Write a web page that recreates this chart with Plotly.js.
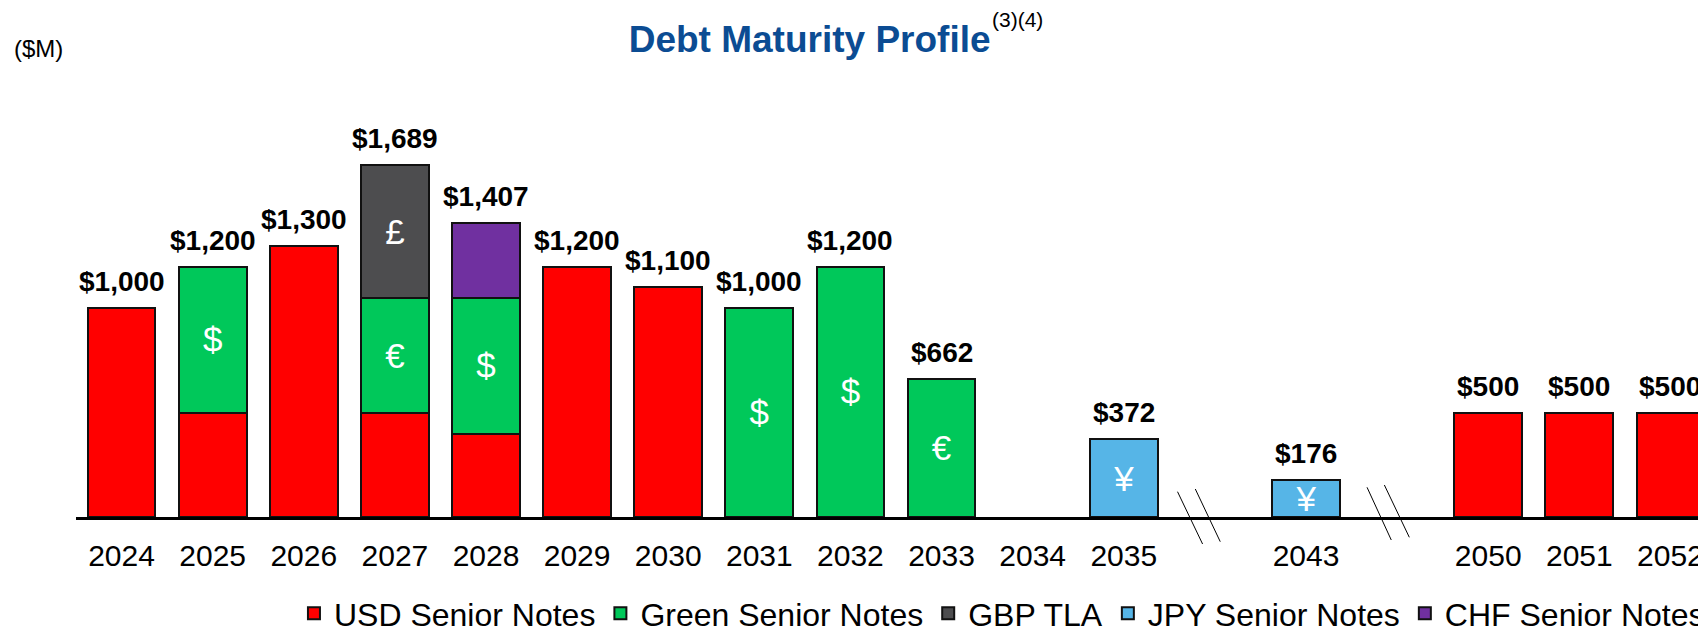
<!DOCTYPE html>
<html>
<head>
<meta charset="utf-8">
<script src="https://cdn.plot.ly/plotly-3.0.1.min.js"></script>
<style>
html, body { margin: 0; padding: 0; overflow: hidden; background: #ffffff; }
#chart { width: 1800px; height: 628px; }
</style>
</head>
<body>
<div id="chart"></div>
<script>
// ---- data (values in $M) ----
const years = ['2024','2025','2026','2027','2028','2029','2030','2031','2032','2033','2034','2035',' ','2043','  ','2050','2051','2052'];
const usdSeniorNotes   = [1000, 500, 1300, 500, 400, 1200, 1100, null, null, null, null, null, null, null, null, 500, 500, 500];
const greenSeniorNotes = [null, 700, null, 549, 650, null, null, 1000, 1200, 662, null, null, null, null, null, null, null, null];
const gbpTLA           = [null, null, null, 640, null, null, null, null, null, null, null, null, null, null, null, null, null, null];
const jpySeniorNotes   = [null, null, null, null, null, null, null, null, null, null, null, 372, null, 176, null, null, null, null];
const chfSeniorNotes   = [null, null, null, null, 357, null, null, null, null, null, null, null, null, null, null, null, null, null];
const greenSymbols = ['', '$', '', '€', '$', '', '', '$', '$', '€', '', '', '', '', '', '', '', ''];
const gbpSymbols   = ['', '', '', '£', '', '', '', '', '', '', '', '', '', '', '', '', '', ''];
const jpySymbols   = ['', '', '', '', '', '', '', '', '', '', '', '¥', '', '¥', '', '', '', ''];
const seriesNames  = ['USD Senior Notes', 'Green Senior Notes', 'GBP TLA', 'JPY Senior Notes', 'CHF Senior Notes'];
const seriesColors = ['#FF0000', '#00C85A', '#4D4D4F', '#56B5E7', '#7030A0'];

const FONT = 'Liberation Sans, Arial, sans-serif';

function barTrace(i, values, symbols) {
  const t = {
    type: 'bar',
    name: seriesNames[i],
    x: years,
    y: values,
    marker: { color: seriesColors[i], line: { color: '#111111', width: 2 } },
    hoverinfo: 'skip',
    cliponaxis: false
  };
  if (symbols) {
    t.text = symbols;
    t.textposition = 'inside';
    t.insidetextanchor = 'middle';
    t.textangle = 0;
    t.constraintext = 'none';
    t.textfont = { family: FONT, size: 35, color: '#ffffff' };
  } else {
    t.textposition = 'none';
  }
  return t;
}

const traces = [
  barTrace(0, usdSeniorNotes, null),
  barTrace(1, greenSeniorNotes, greenSymbols),
  barTrace(2, gbpTLA, gbpSymbols),
  barTrace(3, jpySeniorNotes, jpySymbols),
  barTrace(4, chfSeniorNotes, null)
];

// totals above each bar (category axis: annotation x is the category index)
const allSeries = [usdSeniorNotes, greenSeniorNotes, gbpTLA, jpySeniorNotes, chfSeniorNotes];
const annotations = [];
years.forEach((yr, i) => {
  const total = allSeries.reduce((s, arr) => s + (arr[i] || 0), 0);
  if (total > 0) {
    annotations.push({
      x: i, y: total, xref: 'x', yref: 'y',
      text: '<b>$' + total.toLocaleString('en-US') + '</b>',
      showarrow: false, xanchor: 'center', yanchor: 'bottom', yshift: 9,
      font: { family: FONT, size: 28, color: '#000000' }
    });
  }
});
annotations.push({
  text: '(3)(4)', xref: 'paper', yref: 'paper', x: 0.5572, y: 1.1140,
  xanchor: 'left', yanchor: 'middle', showarrow: false,
  font: { family: FONT, size: 21, color: '#000000' }
});
annotations.push({
  text: '($M)', xref: 'paper', yref: 'paper', x: -0.0390, y: 1.0485,
  xanchor: 'left', yanchor: 'middle', showarrow: false,
  font: { family: FONT, size: 24, color: '#000000' }
});

// axis-break marks
const breakLines = [
  [11.590, 11.865, 491.7, 544.0],
  [11.785, 12.059, 489.0, 541.7],
  [13.670, 13.936, 487.3, 540.0],
  [13.860, 14.134, 485.0, 537.3]
];
const plotBottom = 517, plotHeight = 447;
const shapes = breakLines.map(b => ({
  type: 'line', xref: 'x', yref: 'paper',
  x0: b[0], x1: b[1],
  y0: (plotBottom - b[2]) / plotHeight, y1: (plotBottom - b[3]) / plotHeight,
  line: { color: '#000000', width: 1 }
}));

const layout = {
  width: 1800, height: 628,
  margin: { l: 76, r: 84, t: 70, b: 111, autoexpand: false },
  paper_bgcolor: '#ffffff', plot_bgcolor: '#ffffff',
  barmode: 'stack', bargap: 0.255,
  title: {
    text: '<b>Debt Maturity Profile</b>',
    font: { family: FONT, size: 37, color: '#0B4C93' },
    x: 0.4498, xref: 'container', xanchor: 'center',
    y: 0.958, yref: 'container', yanchor: 'top'
  },
  xaxis: {
    type: 'category', categoryorder: 'array', categoryarray: years,
    range: [-0.5, 17.5],
    showline: true, linecolor: '#000000', linewidth: 3,
    ticks: '', showgrid: false, zeroline: false,
    tickfont: { family: FONT, size: 30, color: '#000000' },
    ticklabelstandoff: 10, fixedrange: true
  },
  yaxis: { range: [0, 2142], visible: false, fixedrange: true },
  showlegend: true,
  legend: {
    orientation: 'h', traceorder: 'normal',
    x: 0.1329, xanchor: 'left', y: -0.1544, yanchor: 'top',
    font: { family: FONT, size: 32, color: '#000000' },
    bgcolor: 'rgba(0,0,0,0)'
  },
  annotations: annotations,
  shapes: shapes
};

Plotly.newPlot('chart', traces, layout, { staticPlot: true, displayModeBar: false });
</script>
</body>
</html>
